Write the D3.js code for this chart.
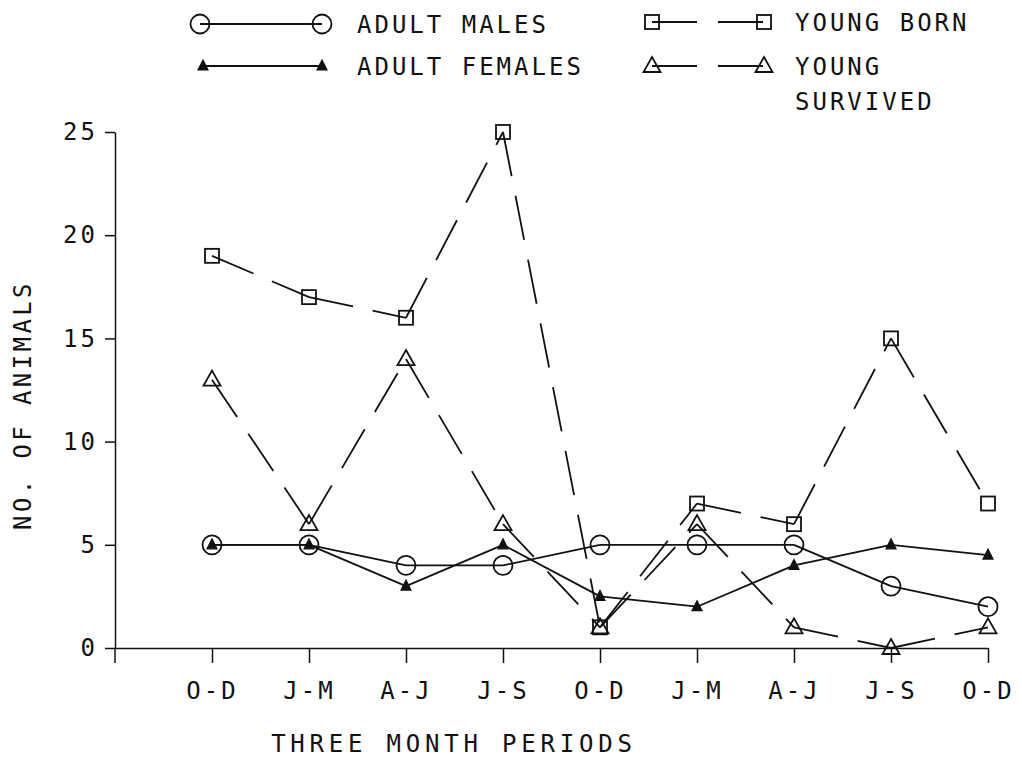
<!DOCTYPE html>
<html>
<head>
<meta charset="utf-8">
<script src="https://cdn.jsdelivr.net/npm/d3@7"></script>
<style>
  body { margin: 0; background: #fff; }
  text { font-family: "DejaVu Sans Mono", monospace; font-size: 24px; letter-spacing: 3px; fill: #111; }
</style>
</head>
<body>
<div id="chart"></div>
<script>
// three month periods on the x axis
var periods = ["O-D", "J-M", "A-J", "J-S", "O-D", "J-M", "A-J", "J-S", "O-D"];
var yTicks = [0, 5, 10, 15, 20, 25];

// counts
var adultMales     = [5, 5, 4, 4, 5, 5, 5, 3, 2];
var adultFemales   = [5, 5, 3, 5, 2.5, 2, 4, 5, 4.5];
var youngBorn      = [19, 17, 16, 25, 1, 7, 6, 15, 7];
var youngSurvived  = [13, 6, 14, 6, 1, 6, 1, 0, 1];

var width = 1022, height = 762;
var ink = "#111";

var svg = d3.select("#chart")
  .append("svg")
  .attr("width", width)
  .attr("height", height);

var x = d3.scaleLinear().domain([-1, 8]).range([115, 988]);
var y = d3.scaleLinear().domain([0, 25]).range([648, 132]);

// axes
var xAxis = svg.append("g")
  .attr("transform", `translate(0,${y(0)})`)
  .call(d3.axisBottom(x)
    .tickValues(d3.range(periods.length))
    .tickFormat(i => periods[i])
    .tickSize(15)
    .tickSizeOuter(0)
    .tickPadding(19));

var yAxis = svg.append("g")
  .attr("transform", `translate(${x(-1)},0)`)
  .call(d3.axisLeft(y)
    .tickValues(yTicks)
    .tickSize(10)
    .tickSizeOuter(0)
    .tickPadding(7));

// y axis runs a little below zero like the plotter drew it
svg.append("line")
  .attr("x1", x(-1)).attr("x2", x(-1))
  .attr("y1", y(0)).attr("y2", y(0) + 15)
  .attr("stroke", ink).attr("stroke-width", 1.5);

[xAxis, yAxis].forEach(g => {
  g.selectAll("path, line").attr("stroke", ink).attr("stroke-width", 1.5);
  g.selectAll("text")
    .attr("fill", ink)
    .style("font-family", "DejaVu Sans Mono, monospace")
    .style("font-size", "24px");
});

// axis titles
svg.append("text")
  .attr("x", 454)
  .attr("y", 752)
  .attr("text-anchor", "middle")
  .style("letter-spacing", "4.8px")
  .text("THREE MONTH PERIODS");

svg.append("text")
  .attr("transform", "translate(31,405) rotate(-90)")
  .attr("text-anchor", "middle")
  .style("letter-spacing", "3.4px")
  .text("NO. OF ANIMALS");

// marker drawing
function drawMarker(g, kind, cx, cy) {
  if (kind == "circle") {
    g.append("circle").attr("cx", cx).attr("cy", cy).attr("r", 9.5)
      .attr("fill", "none").attr("stroke", ink).attr("stroke-width", 1.8);
  } else if (kind == "square") {
    g.append("rect").attr("x", cx - 7).attr("y", cy - 7).attr("width", 14).attr("height", 14)
      .attr("fill", "none").attr("stroke", ink).attr("stroke-width", 1.8);
  } else if (kind == "triangle") {
    g.append("path")
      .attr("d", `M${cx},${cy - 9}L${cx + 8.5},${cy + 6}L${cx - 8.5},${cy + 6}Z`)
      .attr("fill", "none").attr("stroke", ink).attr("stroke-width", 1.8);
  } else {
    g.append("path")
      .attr("d", `M${cx},${cy - 6}L${cx + 5},${cy + 4}L${cx - 5},${cy + 4}Z`)
      .attr("fill", ink).attr("stroke", ink).attr("stroke-width", 1.2);
  }
}

var series = [
  {name: "males", values: adultMales, marker: "circle", dash: null},
  {name: "females", values: adultFemales, marker: "filled", dash: null},
  {name: "born", values: youngBorn, marker: "square", dash: "45,20"},
  {name: "survived", values: youngSurvived, marker: "triangle", dash: "45,20"}
];

var segLine = d3.line()
  .x(d => x(d[0]))
  .y(d => y(d[1]));

series.forEach(s => {
  var g = svg.append("g").attr("class", s.name);
  // each segment is drawn on its own so the dashes start at the marker
  var pairs = d3.pairs(s.values.map((v, i) => [i, v]));
  g.selectAll("path.seg")
    .data(pairs)
    .join("path")
    .attr("class", "seg")
    .attr("d", segLine)
    .attr("fill", "none")
    .attr("stroke", ink)
    .attr("stroke-width", 1.8)
    .attr("stroke-dasharray", s.dash);
  s.values.forEach((v, i) => drawMarker(g, s.marker, x(i), y(v)));
});

// legend
var legend = svg.append("g").attr("class", "legend");
var legendRows = [
  {marker: "circle", dash: null, x0: 200, x1: 322, yy: 24, lines: ["ADULT MALES"], tx: 357},
  {marker: "filled", dash: null, x0: 203, x1: 322, yy: 66, lines: ["ADULT FEMALES"], tx: 357},
  {marker: "square", dash: "45,21", x0: 652, x1: 764, yy: 22, lines: ["YOUNG BORN"], tx: 795},
  {marker: "triangle", dash: "45,21", x0: 652, x1: 764, yy: 66, lines: ["YOUNG", "SURVIVED"], tx: 795}
];
legendRows.forEach(r => {
  legend.append("line")
    .attr("x1", r.x0).attr("x2", r.x1)
    .attr("y1", r.yy).attr("y2", r.yy)
    .attr("stroke", ink).attr("stroke-width", 1.8)
    .attr("stroke-dasharray", r.dash);
  drawMarker(legend, r.marker, r.x0, r.yy);
  drawMarker(legend, r.marker, r.x1, r.yy);
  r.lines.forEach((t, k) => {
    legend.append("text")
      .attr("x", r.tx)
      .attr("y", r.yy + 9 + k * 35)
      .text(t);
  });
});
</script>
</body>
</html>
